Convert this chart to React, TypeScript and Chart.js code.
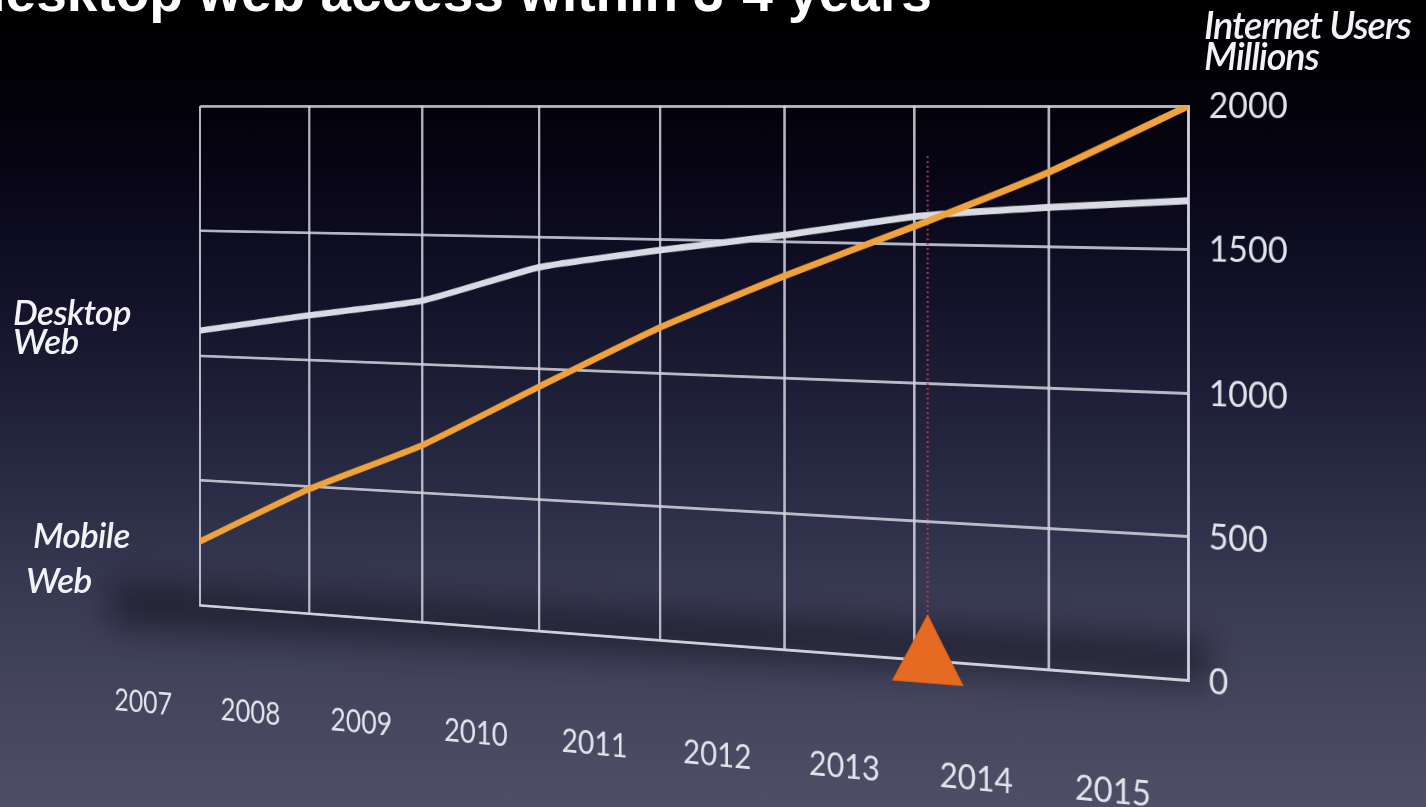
import React, { useEffect, useRef } from "react";
import { Chart, registerables } from "chart.js";

Chart.register(...registerables);

// ---- data ----
const years = [2007, 2008, 2009, 2010, 2011, 2012, 2013, 2014, 2015];
const mobileWeb = [255, 490, 685, 930, 1170, 1375, 1565, 1765, 2000];
const desktopWeb = [1100, 1175, 1245, 1385, 1460, 1525, 1600, 1640, 1670];
const yTickStep = 500;
const yMin = 0;
const yMax = 2000;
const crossoverYear = 2013.1;
const crossoverLineTop = 1820;

// ---- canvas geometry (pre-perspective) ----
const CW = 1500;
const CH = 770;
const X_AXIS_H = 140;
const Y_AXIS_W = 125;

export default function App() {
  const ref = useRef<HTMLCanvasElement | null>(null);

  useEffect(() => {
    const canvas = ref.current!;
    const gridColor = "rgba(210,210,222,0.85)";
    const tickColor = "#e2e2ea";
    const chart = new Chart(canvas, {
      type: "line",
      data: {
        datasets: [
          {
            label: "Mobile Web",
            data: years.map((x, i) => ({ x, y: mobileWeb[i] })),
            borderColor: "#f0a23c",
            borderWidth: 7,
            pointRadius: 0,
            tension: 0.15,
            borderCapStyle: "round",
            borderJoinStyle: "round",
            order: 0,
          },
          {
            label: "Desktop Web",
            data: years.map((x, i) => ({ x, y: desktopWeb[i] })),
            borderColor: "#d8dae4",
            borderWidth: 7,
            pointRadius: 0,
            tension: 0.15,
            borderCapStyle: "round",
            borderJoinStyle: "round",
            order: 1,
          },
          {
            label: "Crossover",
            data: [{ x: crossoverYear, y: yMin }],
            showLine: false,
            pointStyle: "triangle",
            pointRadius: 47,
            backgroundColor: "#e56b22",
            borderColor: "#d85e1a",
            borderWidth: 1,
            clip: false,
            order: 2,
          },
          {
            label: "Crossover line",
            data: [
              { x: crossoverYear, y: yMin },
              { x: crossoverYear, y: crossoverLineTop },
            ],
            borderColor: "rgba(175,60,80,0.9)",
            borderWidth: 2.5,
            borderDash: [2, 3],
            pointRadius: 0,
            order: 3,
          },
        ],
      },
      options: {
        animation: false,
        responsive: false,
        maintainAspectRatio: false,
        layout: { padding: { left: 120, right: 10, top: 10, bottom: 10 } },
        plugins: {
          legend: { display: false },
          tooltip: { enabled: false },
          title: { display: false },
        },
        scales: {
          x: {
            type: "linear",
            min: years[0],
            max: years[years.length - 1],
            afterFit: (s: any) => {
              s.height = X_AXIS_H;
            },
            grid: { color: gridColor, lineWidth: 3, drawTicks: false },
            border: { color: gridColor, width: 3 },
            ticks: {
              stepSize: 1,
              padding: 97,
              labelOffset: -82,
              color: tickColor,
              font: { family: "Lato", size: 36 },
              callback: (v: any) => String(v),
            },
          },
          y: {
            position: "right",
            min: yMin,
            max: yMax,
            afterFit: (s: any) => {
              s.width = Y_AXIS_W;
            },
            grid: { color: gridColor, lineWidth: 3, drawTicks: false },
            border: { color: gridColor, width: 3 },
            ticks: {
              stepSize: yTickStep,
              padding: 22,
              color: tickColor,
              font: { family: "Lato", size: 36 },
              callback: (v: any) => String(v),
            },
          },
        },
      },
    } as any);

    // target placement of the chart frame on screen
    const rightX = 1188;
    const topY = 106;
    const rightBottomY = 680;
    const leftX = 200;
    const leftBottomY = 605;

    let ca = chart.chartArea;
    const dh = rightBottomY - topY - (ca.bottom - ca.top);
    if (Math.abs(dh) > 0.5) {
      chart.resize(CW, Math.round(CH + dh));
      ca = chart.chartArea;
    }

    // perspective so that the grid recedes to the left
    const d = ca.right - ca.left;
    const h = ca.bottom - ca.top;
    const sL = (leftBottomY - topY) / h;
    const cosT = Math.min(1, (rightX - leftX) / sL / d);
    const theta = Math.acos(cosT);
    const P = (d * Math.sin(theta)) / (1 / sL - 1);
    canvas.style.left = rightX - ca.right + "px";
    canvas.style.top = topY - ca.top + "px";
    canvas.style.transformOrigin = `${ca.right}px ${ca.top}px`;
    canvas.style.transform = `perspective(${P}px) rotateY(${-theta}rad)`;

    return () => chart.destroy();
  }, []);

  const label: React.CSSProperties = {
    position: "absolute",
    color: "#f2f2f7",
    fontFamily: "Lato, 'Open Sans', sans-serif",
    fontStyle: "italic",
    fontWeight: 600,
    whiteSpace: "nowrap",
  };

  return (
    <div
      style={{
        position: "fixed",
        left: 0,
        top: 0,
        width: 1426,
        height: 807,
        overflow: "hidden",
        background:
          "linear-gradient(to bottom, #000000 0%, #010106 10%, #070515 21%, #14132b 38%, #24253f 55%, #3a3b54 75%, #4a4b63 94%, #4e4f66 100%)",
      }}
    >
      <div
        style={{
          position: "absolute",
          left: -28,
          top: -35,
          color: "#ffffff",
          fontFamily: "'Liberation Sans', Arial, sans-serif",
          fontWeight: 700,
          fontSize: 55,
          lineHeight: "55px",
          whiteSpace: "nowrap",
        }}
      >
        desktop web access within 3-4 years
      </div>
      <div
        style={{
          position: "absolute",
          left: 110,
          top: 610,
          width: 1100,
          height: 45,
          background: "rgba(12,12,22,0.5)",
          filter: "blur(16px)",
          transform: "rotate(3deg)",
        }}
      />
      <canvas
        ref={ref}
        width={CW}
        height={CH}
        style={{ position: "absolute", width: CW, height: CH }}
      />
      <div style={{ ...label, left: 1204, top: 9, fontSize: 38, lineHeight: "31px", letterSpacing: "-1.2px" }}>
        Internet Users
        <br />
        Millions
      </div>
      <div style={{ ...label, left: 13, top: 297, fontSize: 35, lineHeight: "29px", letterSpacing: "-0.6px" }}>
        Desktop
        <br />
        Web
      </div>
      <div style={{ ...label, left: 33, top: 512, fontSize: 35, lineHeight: "45px", letterSpacing: "-0.6px" }}>
        Mobile
        <br />
        <span style={{ marginLeft: -7 }}>Web</span>
      </div>
    </div>
  );
}
